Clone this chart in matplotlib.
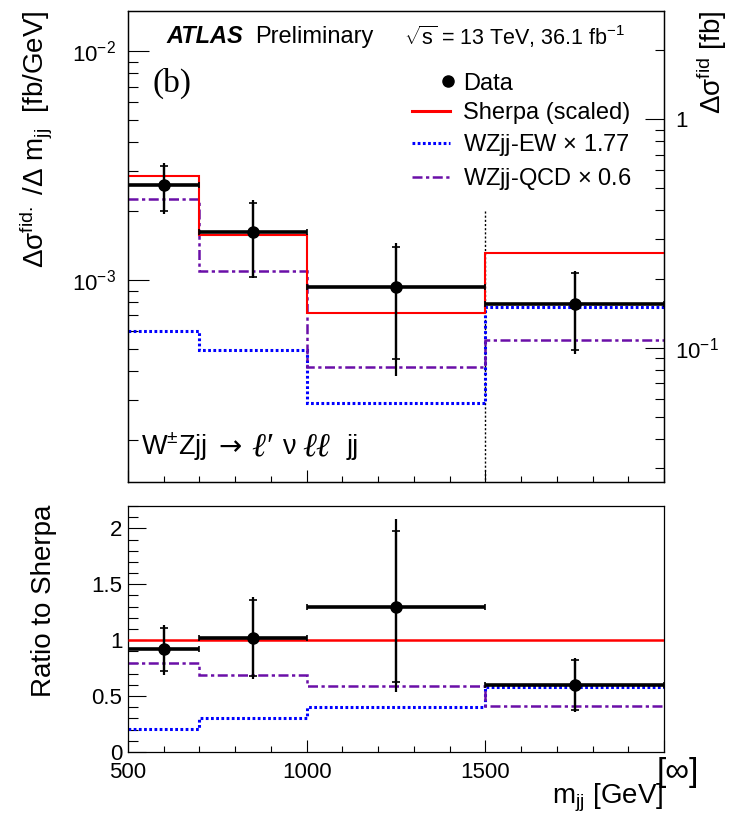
import matplotlib
matplotlib.use("Agg")
import matplotlib.pyplot as plt
from matplotlib.lines import Line2D
from matplotlib.legend_handler import HandlerLine2D
from matplotlib.ticker import MultipleLocator, NullFormatter, LogLocator

plt.rcParams['font.family'] = ['Liberation Sans', 'DejaVu Sans']
plt.rcParams['mathtext.fontset'] = 'custom'
plt.rcParams['mathtext.rm'] = 'Liberation Sans'
plt.rcParams['mathtext.it'] = 'Liberation Sans:italic'
plt.rcParams['mathtext.bf'] = 'Liberation Sans:bold'

# ---- data ----
edges = [500, 700, 1000, 1500, 2000]          # last bin is 1500 - inf
centers = [600, 850, 1250, 1750]
half_width = [100, 150, 250, 250]

data_xs = [2.60e-3, 1.62e-3, 9.3e-4, 7.85e-4]
data_tot_up = [3.24e-3, 2.23e-3, 1.445e-3, 1.10e-3]
data_tot_dn = [1.95e-3, 1.02e-3, 3.81e-4, 4.75e-4]
data_stat_up = [3.16e-3, 2.18e-3, 1.40e-3, 1.077e-3]
data_stat_dn = [2.0e-3, 1.035e-3, 4.51e-4, 4.94e-4]

sherpa = [2.85e-3, 1.58e-3, 7.18e-4, 1.31e-3]
ew = [5.99e-4, 4.94e-4, 2.9e-4, 7.6e-4]
qcd = [2.25e-3, 1.09e-3, 4.17e-4, 5.47e-4]

ratio_data = [0.92, 1.02, 1.30, 0.60]
ratio_tot_up = [1.14, 1.39, 2.08, 0.84]
ratio_tot_dn = [0.69, 0.65, 0.535, 0.357]
ratio_stat_up = [1.11, 1.36, 1.98, 0.82]
ratio_stat_dn = [0.72, 0.68, 0.63, 0.38]
ratio_sherpa = [1.0, 1.0, 1.0, 1.0]
ratio_ew = [0.21, 0.30, 0.405, 0.58]
ratio_qcd = [0.80, 0.69, 0.59, 0.41]

right_scale = 198.0      # fb/GeV -> fb for the right axis
ylim_top = (1.31e-4, 1.50e-2)
ylim_ratio = (0, 2.2)
vline_x = 1500
vline_top = 2.0e-3

RED = '#ff0000'
BLUE = '#0000ff'
PURPLE = '#6a0fa8'
EW_LS = (0, (0.9, 0.8))
QCD_LS = (0, (4, 1.4, 1.3, 1.4))


def errs(v, up, dn):
    return [[a - b for a, b in zip(v, dn)], [b - a for a, b in zip(v, up)]]


class RightMarker(HandlerLine2D):
    # ROOT-style legend: marker sits at the right end of the handle box
    def get_xdata(self, legend, xdescent, ydescent, width, height, fontsize):
        xr = -xdescent + 0.96 * width
        return [xr - 1, xr + 1], [xr]


def px(x):
    # horizontal pixel -> upper axes fraction
    return (x - 128) / 536


fig = plt.figure(figsize=(7.48, 8.19), dpi=100)
ax1 = fig.add_axes([128 / 748, 1 - 482 / 819, 536 / 748, 471 / 819])
ax2 = fig.add_axes([128 / 748, 1 - 752 / 819, 536 / 748, 246 / 819])

# ---- upper panel ----
ax1.set_yscale('log')
ax1.stairs(sherpa, edges, baseline=None, color=RED, lw=1.5, zorder=3)
ax1.stairs(ew, edges, baseline=None, color=BLUE, lw=2.2, linestyle=EW_LS, zorder=2)
ax1.stairs(qcd, edges, baseline=None, color=PURPLE, lw=1.8, linestyle=QCD_LS, zorder=2)
ax1.plot([vline_x, vline_x], [vline_top, ylim_top[0]], color='k', lw=1.0, ls=(0, (1.5, 1.5)), zorder=1)

ax1.errorbar(centers, data_xs, xerr=half_width, fmt='none', ecolor='k', elinewidth=2.6,
             capsize=2.5, capthick=1.2, zorder=5)
ax1.errorbar(centers, data_xs, yerr=errs(data_xs, data_tot_up, data_tot_dn), fmt='none',
             ecolor='k', elinewidth=1.6, capsize=0, zorder=5)
ax1.errorbar(centers, data_xs, yerr=errs(data_xs, data_stat_up, data_stat_dn), fmt='none',
             ecolor='k', elinewidth=1.6, capsize=3, capthick=1.2, zorder=5)
ax1.plot(centers, data_xs, 'o', color='k', ms=8, zorder=6)

ax1.set_xlim(edges[0], edges[-1])
ax1.set_ylim(*ylim_top)
ax1.set_yticks([1e-3, 1e-2], labels=[r'$10^{-3}$', r'$10^{-2}$'])
ax1.yaxis.set_minor_locator(LogLocator(subs=range(2, 10)))
ax1.yaxis.set_minor_formatter(NullFormatter())
ax1.xaxis.set_major_locator(MultipleLocator(500))
ax1.xaxis.set_minor_locator(MultipleLocator(100))
ax1.tick_params(axis='y', which='major', direction='in', length=15, width=0.8, labelsize=16, pad=9)
ax1.tick_params(axis='y', which='minor', direction='in', length=7.5, width=0.8)
ax1.tick_params(axis='x', which='major', direction='in', length=8.5, width=0.8, labelbottom=False)
ax1.tick_params(axis='x', which='minor', direction='in', length=4.5, width=0.8)

tw = ax1.twinx()
tw.set_yscale('log')
tw.set_ylim(ylim_top[0] * right_scale, ylim_top[1] * right_scale)
tw.set_yticks([0.1, 1], labels=[r'$10^{-1}$', '1'])
tw.yaxis.set_minor_locator(LogLocator(subs=range(2, 10)))
tw.yaxis.set_minor_formatter(NullFormatter())
tw.tick_params(axis='y', which='major', direction='in', length=13.5, width=0.8, labelsize=16, pad=8)
tw.tick_params(axis='y', which='minor', direction='in', length=6.5, width=0.8)

for a in (ax1, tw, ax2):
    for s in a.spines.values():
        s.set_linewidth(0.9)

handles = [
    Line2D([], [], marker='o', color='k', ms=8, ls='none'),
    Line2D([], [], color=RED, lw=2.2),
    Line2D([], [], color=BLUE, lw=2.2, ls=EW_LS),
    Line2D([], [], color=PURPLE, lw=1.8, ls=QCD_LS),
]
labels = ['Data', 'Sherpa (scaled)', r'WZjj-EW $\times$ 1.77', r'WZjj-QCD $\times$ 0.6']
ax1.legend(handles, labels, loc='upper left', bbox_to_anchor=(px(412), 0.869), frameon=False,
           fontsize=17, borderpad=0, borderaxespad=0, handlelength=1.6, handletextpad=0.55,
           labelspacing=0.33, handler_map={handles[0]: RightMarker()})

ax1.text(px(166), 0.945, 'ATLAS', transform=ax1.transAxes, fontsize=17, fontweight='bold',
         fontstyle='italic', va='center', ha='left')
ax1.text(px(255), 0.945, 'Preliminary', transform=ax1.transAxes, fontsize=17, va='center', ha='left')
ax1.text(px(404), 0.945, r'$\sqrt{\rm s}$ = 13 TeV, 36.1 fb$^{-1}$', transform=ax1.transAxes,
         fontsize=15.5, va='center', ha='left')
ax1.text(px(152), 0.847, '(b)', transform=ax1.transAxes, fontsize=24, va='center', ha='left',
         family='Liberation Serif')

# process label, placed piece by piece like the ROOT TLatex
proc_y = 0.075
ell_font = dict(family=['Liberation Serif', 'DejaVu Serif'], fontstyle='italic')
ax1.text(px(141), proc_y, r'W$^{\pm}$Zjj', transform=ax1.transAxes, fontsize=19.5, va='center')
ax1.text(px(218), proc_y, '→', transform=ax1.transAxes, fontsize=20, va='center',
         family=['DejaVu Sans'])
ax1.text(px(251), proc_y, 'ℓ′', transform=ax1.transAxes, fontsize=24, va='center', **ell_font)
ax1.text(px(282), proc_y, 'ν', transform=ax1.transAxes, fontsize=19.5, va='center')
ax1.text(px(302), proc_y, 'ℓℓ', transform=ax1.transAxes, fontsize=24, va='center', **ell_font)
ax1.text(px(347), proc_y, 'jj', transform=ax1.transAxes, fontsize=19.5, va='center')

# ---- ratio panel ----
ax2.stairs(ratio_sherpa, edges, baseline=None, color=RED, lw=1.8, zorder=3)
ax2.stairs(ratio_ew, edges, baseline=None, color=BLUE, lw=2.2, linestyle=EW_LS, zorder=2)
ax2.stairs(ratio_qcd, edges, baseline=None, color=PURPLE, lw=1.8, linestyle=QCD_LS, zorder=2)

ax2.errorbar(centers, ratio_data, xerr=half_width, fmt='none', ecolor='k', elinewidth=2.6,
             capsize=2.5, capthick=1.2, zorder=5)
ax2.errorbar(centers, ratio_data, yerr=errs(ratio_data, ratio_tot_up, ratio_tot_dn), fmt='none',
             ecolor='k', elinewidth=1.6, capsize=0, zorder=5)
ax2.errorbar(centers, ratio_data, yerr=errs(ratio_data, ratio_stat_up, ratio_stat_dn), fmt='none',
             ecolor='k', elinewidth=1.6, capsize=3, capthick=1.2, zorder=5)
ax2.plot(centers, ratio_data, 'o', color='k', ms=8, zorder=6)

ax2.set_xlim(edges[0], edges[-1])
ax2.set_ylim(*ylim_ratio)
ax2.set_xticks([500, 1000, 1500, 2000], labels=['500', '1000', '1500', ''])
ax2.xaxis.set_minor_locator(MultipleLocator(100))
ax2.set_yticks([0, 0.5, 1, 1.5, 2], labels=['0', '0.5', '1', '1.5', '2'])
ax2.yaxis.set_minor_locator(MultipleLocator(0.1))
ax2.tick_params(axis='y', which='major', direction='in', length=13, width=0.8, labelsize=16, pad=4)
ax2.tick_params(axis='y', which='minor', direction='in', length=7, width=0.8)
ax2.tick_params(axis='x', which='major', direction='in', length=8.5, width=0.8, labelsize=16, pad=7)
ax2.tick_params(axis='x', which='minor', direction='in', length=4.5, width=0.8)

# ---- axis titles ----
fig.text(36 / 748, 1 - 10 / 819, r'Δσ$^{\rm fid.}$ /Δ m$_{\rm jj}$  [fb/GeV]', rotation=90,
         ha='center', va='top', fontsize=20)
fig.text(712 / 748, 1 - 10 / 819, r'Δσ$^{\rm fid}$ [fb]', rotation=90, ha='center', va='top', fontsize=20)
fig.text(44 / 748, 1 - 505 / 819, 'Ratio to Sherpa', rotation=90, ha='center', va='top', fontsize=20)
fig.text(663 / 748, 1 - 798 / 819, r'm$_{\rm jj}$ [GeV]', ha='right', va='center', fontsize=20)
fig.text(657 / 748, 1 - 772 / 819, '[∞]', ha='left', va='center', fontsize=24)

fig.savefig('out.png', dpi=100)
